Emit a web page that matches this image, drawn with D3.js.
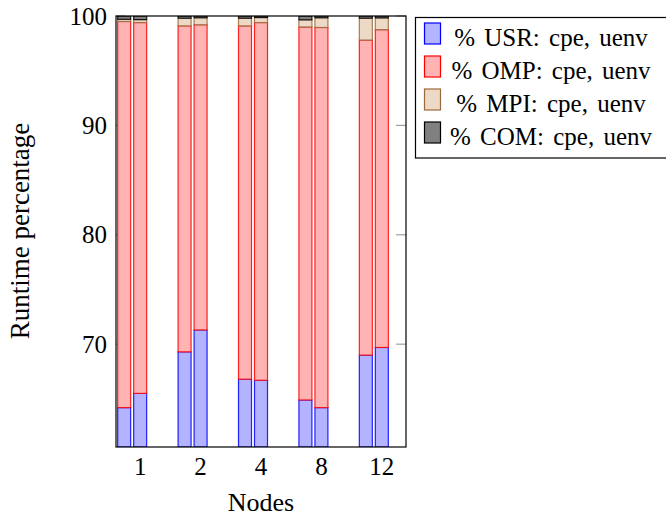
<!DOCTYPE html>
<html>
<head>
<meta charset="utf-8">
<script src="https://cdn.jsdelivr.net/npm/d3@7"></script>
<style>
  html, body { margin: 0; padding: 0; background: #fff; }
  svg { display: block; font-family: "Liberation Serif", "Times New Roman", serif; }
</style>
</head>
<body>
<svg id="chart" width="666" height="518"></svg>
<script>
// Node counts on the x axis
const nodes = ["1", "2", "4", "8", "12"];

// Runtime share (%) per component, for the cpe and uenv builds
const usrCpe  = [64.2, 69.3, 66.8, 64.9, 69.0];
const usrUenv = [65.5, 71.3, 66.7, 64.2, 69.7];
const ompCpe  = [35.3, 29.8, 32.3, 34.1, 28.8];
const ompUenv = [33.9, 27.9, 32.7, 34.75, 29.05];
const mpiCpe  = [0.2, 0.7, 0.7, 0.65, 2.0];
const mpiUenv = [0.27, 0.64, 0.46, 0.89, 1.08];
const comCpe  = [0.3, 0.2, 0.2, 0.35, 0.2];
const comUenv = [0.33, 0.16, 0.14, 0.16, 0.17];

const yTicks = [70, 80, 90, 100];

const components = [
  { name: "USR", cpe: usrCpe, uenv: usrUenv, fill: "#b3b3ff", stroke: "#0000ff" },
  { name: "OMP", cpe: ompCpe, uenv: ompUenv, fill: "#ffb3b3", stroke: "#ff0000" },
  { name: "MPI", cpe: mpiCpe, uenv: mpiUenv, fill: "#ecd9c6", stroke: "#9a6a3c" },
  { name: "COM", cpe: comCpe, uenv: comUenv, fill: "#808080", stroke: "#000000" }
];

const svg = d3.select("#chart");
const frame = { left: 116, right: 406, top: 16, bottom: 447 };

const x = d3.scaleLinear().domain([-0.4, nodes.length - 1 + 0.4]).range([frame.left, frame.right]);
const y = d3.scaleLinear().domain([60.6, 100]).range([frame.bottom, frame.top]);

const barW = 13;
const builds = [{ key: "cpe", shift: -16 }, { key: "uenv", shift: 0 }];

svg.append("defs").append("clipPath").attr("id", "plotClip")
  .append("rect")
  .attr("x", frame.left).attr("y", frame.top)
  .attr("width", frame.right - frame.left).attr("height", frame.bottom - frame.top);

// tick marks inside the frame (drawn under the bars)
const tickG = svg.append("g").attr("stroke", "#a0a0a0").attr("stroke-width", 1.2);
yTicks.forEach(t => {
  tickG.append("line").attr("x1", frame.left).attr("x2", frame.left + 9)
    .attr("y1", y(t)).attr("y2", y(t));
  tickG.append("line").attr("x1", frame.right - 10).attr("x2", frame.right)
    .attr("y1", y(t)).attr("y2", y(t));
});
nodes.forEach((n, i) => {
  tickG.append("line").attr("x1", x(i)).attr("x2", x(i))
    .attr("y1", frame.bottom).attr("y2", frame.bottom - 9);
  tickG.append("line").attr("x1", x(i)).attr("x2", x(i))
    .attr("y1", frame.top).attr("y2", frame.top + 9);
});

// stacked bars
const barsG = svg.append("g").attr("clip-path", "url(#plotClip)");
builds.forEach(b => {
  nodes.forEach((n, i) => {
    let base = 0;
    components.forEach(c => {
      const v = c[b.key][i];
      const y0 = Math.max(base, y.domain()[0]);
      const y1 = base + v;
      base = y1;
      if (y1 <= y.domain()[0]) return;
      barsG.append("rect")
        .attr("x", x(i) + b.shift - barW / 2)
        .attr("width", barW)
        .attr("y", y(y1))
        .attr("height", y(y0) - y(y1))
        .attr("fill", c.fill)
        .attr("stroke", c.stroke)
        .attr("stroke-opacity", 0.85)
        .attr("stroke-width", 1.2);
    });
  });
});

// frame
svg.append("rect")
  .attr("x", frame.left).attr("y", frame.top)
  .attr("width", frame.right - frame.left).attr("height", frame.bottom - frame.top)
  .attr("fill", "none").attr("stroke", "#000").attr("stroke-width", 1.2);

// tick labels
const fs = 25;
svg.append("g").selectAll("text").data(yTicks).join("text")
  .attr("x", 107).attr("y", d => y(d) + 8.5)
  .attr("text-anchor", "end").attr("font-size", fs)
  .text(d => d);

svg.append("g").selectAll("text").data(nodes).join("text")
  .attr("x", (d, i) => x(i)).attr("y", 475)
  .attr("text-anchor", "middle").attr("font-size", fs)
  .text(d => d);

// axis titles
svg.append("text")
  .attr("transform", "translate(29,231) rotate(-90)")
  .attr("text-anchor", "middle").attr("font-size", 27)
  .text("Runtime percentage");

svg.append("text")
  .attr("x", 261).attr("y", 511)
  .attr("text-anchor", "middle").attr("font-size", 26)
  .text("Nodes");

// legend
const lg = svg.append("g");
lg.append("rect")
  .attr("x", 415.5).attr("y", 17.5).attr("width", 270).attr("height", 140.5)
  .attr("fill", "#fff").attr("stroke", "#000").attr("stroke-width", 1.2);
components.forEach((c, k) => {
  const top = 23 + k * 33;
  lg.append("rect")
    .attr("x", 424.5).attr("y", top).attr("width", 16).attr("height", 21)
    .attr("fill", c.fill).attr("stroke", c.stroke).attr("stroke-width", 1.2);
  lg.append("text")
    .attr("x", 551).attr("y", top + 23)
    .attr("text-anchor", "middle").attr("font-size", 25)
    .attr("word-spacing", 3)
    .text(`% ${c.name}: cpe, uenv`);
});
</script>
</body>
</html>
